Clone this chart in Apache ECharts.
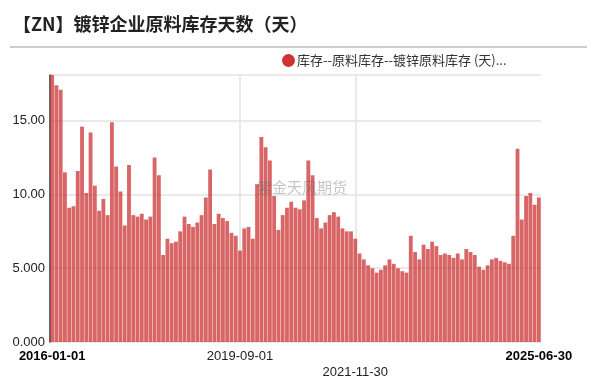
<!DOCTYPE html>
<html>
<head>
<meta charset="utf-8">
<script src="https://cdn.jsdelivr.net/npm/echarts@6/dist/echarts.min.js"></script>
<style>
html,body{margin:0;padding:0;background:#fff;}
#chart{width:599px;height:388px;}
</style>
</head>
<body>
<div id="chart"></div>
<script>
// ---- data ----
const titleText = '【ZN】镀锌企业原料库存天数（天）';
const seriesName = '库存--原料库存--镀锌原料库存 (天)...';
const watermark = '紫金天风期货';
const startYear = 2016, startMonth = 1;
const values = [
  18.1, 17.4, 17.1, 11.5, 9.1, 9.2, 11.6, 14.6, 10.1, 14.2, 10.6, 8.9,
  9.7, 8.6, 14.9, 11.9, 10.2, 7.9, 12.0, 8.6, 8.5, 8.7, 8.3, 8.5,
  12.5, 11.3, 5.9, 7.0, 6.7, 6.8, 7.5, 8.5, 8.0, 7.8, 8.1, 8.6,
  9.8, 11.7, 8.0, 8.7, 8.4, 8.2, 7.4, 7.2, 6.2, 7.7, 7.8, 7.0,
  10.7, 13.9, 13.2, 12.3, 9.9, 7.6, 8.6, 9.1, 9.5, 9.1, 9.0, 9.6,
  12.3, 11.3, 8.4, 7.7, 8.1, 8.6, 8.8, 8.5, 7.7, 7.5, 7.5, 7.0,
  6.0, 5.6, 5.2, 5.0, 4.7, 4.9, 5.2, 5.6, 5.3, 5.0, 4.8, 4.7,
  7.2, 6.1, 5.6, 6.6, 6.3, 6.8, 6.5, 5.9, 6.0, 5.9, 5.7, 6.0,
  5.6, 6.3, 6.1, 5.9, 5.1, 4.9, 5.2, 5.6, 5.7, 5.5, 5.4, 5.3,
  7.2, 13.1, 8.3, 9.9, 10.1, 9.3, 9.8
];
const tickIdx = [0, 44, 71, 114];
const tickText = ['2016-01-01', '2019-09-01', '2021-11-30', '2025-06-30'];
const tickStyle = ['b', 'n', 'n2', 'b'];
const gridIdx = [44, 71];

const categories = values.map((v, i) => {
  const m = startMonth - 1 + i;
  const y = startYear + Math.floor(m / 12);
  const mm = (m % 12) + 1;
  return y + '-' + (mm < 10 ? '0' + mm : mm);
});

const font = '"Liberation Sans", Arial, sans-serif';
const chart = echarts.init(document.getElementById('chart'));
chart.setOption({
  animation: false,
  backgroundColor: '#fff',
  title: {
    text: titleText,
    left: 8, top: 10,
    textStyle: {fontFamily: '"Noto Sans CJK SC", sans-serif', fontSize: 18, fontWeight: 'bold', color: '#222'}
  },
  graphic: [
    {type: 'line', shape: {x1: 10, y1: 47, x2: 587, y2: 47}, style: {stroke: '#cccccc', lineWidth: 2}},
    {type: 'text', left: 257, top: 180, z: 100,
     style: {text: watermark, font: '15px "Noto Sans CJK SC", sans-serif', fill: 'rgba(90,90,90,0.35)'}}
  ],
  legend: {
    left: 277, top: 49,
    icon: 'circle', itemWidth: 13, itemHeight: 13, itemGap: 4,
    itemStyle: {opacity: 1},
    textStyle: {fontFamily: '"Noto Sans CJK SC", sans-serif', fontSize: 13, color: '#333', padding: [0,0,0,-3]},
    data: [seriesName]
  },
  grid: {left: 50, right: 58, top: 75, bottom: 46, containLabel: false},
  xAxis: {
    type: 'category',
    data: categories,
    boundaryGap: true,
    axisLine: {show: false},
    axisTick: {show: false},
    splitLine: {show: false},
    axisLabel: {
      interval: (i) => tickIdx.indexOf(i) >= 0,
      margin: 6,
      formatter: (val, i) => {
        const k = tickIdx.indexOf(i);
        if (k < 0) return '';
        if (tickStyle[k] === 'n2') return '\n{n|' + tickText[k] + '}';
        return '{' + tickStyle[k] + '|' + tickText[k] + '}';
      },
      rich: {
        b: {fontFamily: font, fontSize: 13, fontWeight: 'bold', color: '#000'},
        n: {fontFamily: font, fontSize: 13, color: '#222'}
      },
      lineHeight: 16,
      fontFamily: font, fontSize: 13
    }
  },
  yAxis: {
    type: 'value',
    min: 0, max: 'dataMax', interval: 5,
    axisLine: {show: true, lineStyle: {color: '#333', width: 1.5}},
    axisTick: {show: false},
    splitLine: {show: true, lineStyle: {color: '#e3e3e3', width: 1.5}},
    axisLabel: {
      showMaxLabel: false,
      margin: 5,
      fontFamily: font, fontSize: 13, color: '#222',
      formatter: (v) => (v < 10 ? v.toFixed(3) : v.toFixed(2))
    }
  },
  series: [{
    name: seriesName,
    type: 'bar',
    data: values,
    barCategoryGap: '10%',
    itemStyle: {color: '#cc3333', opacity: 0.75},
    markLine: {
      silent: true,
      z: 1,
      symbol: ['none', 'none'],
      label: {show: false},
      lineStyle: {color: '#e3e3e3', width: 1.5, type: 'solid'},
      emphasis: {disabled: true},
      data: gridIdx.map(i => ({xAxis: categories[i]}))
    }
  }]
});
</script>
</body>
</html>
